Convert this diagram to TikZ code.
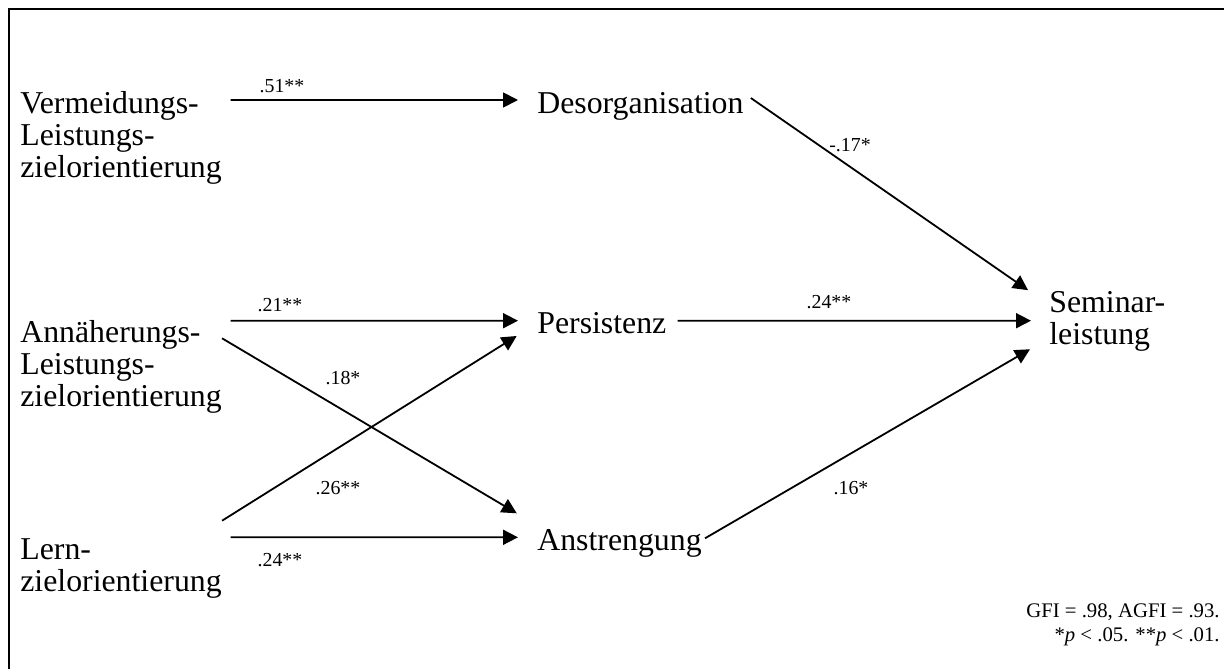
\documentclass[tikz,border=0pt]{standalone}
\usepackage{fontspec}
\setmainfont{Liberation Serif}
\usetikzlibrary{arrows.meta}

\tikzset{
  bloc/.style={anchor=base west,inner sep=0pt,align=left,font=\fontsize{18.1}{18.2}\selectfont},
  coef/.style={inner sep=0pt,font=\fontsize{11.3}{13}\selectfont},
  fleche/.style={line width=0.36mm,-{Triangle[length=3mm,width=3mm]}},
}

\begin{document}
\begin{tikzpicture}[x=0.2mm,y=-0.2mm]
\useasboundingbox (0,0) rectangle (1224,669);
\draw[line width=0.34mm] (9,669) -- (9,9) -- (1224,9);

%colonne de gauche (base = derniere ligne)
\node[bloc] (verm) at (20,177) {Vermeidungs-\\Leistungs-\\zielorientierung};
\node[bloc] (ann) at (20,406.5) {Annäherungs-\\Leistungs-\\zielorientierung};
\node[bloc] (lern) at (20,591) {Lern-\\zielorientierung};

%colonne du milieu
\node[bloc] (deso) at (537,113) {Desorganisation};
\node[bloc] (pers) at (537,333.7) {Persistenz};
\node[bloc] (anst) at (537,550.3) {Anstrengung};

%a droite
\node[bloc] (sem) at (1049,344) {Seminar-\\leistung};
\node[anchor=base east,inner sep=0pt,align=right,font=\fontsize{11.8}{13.6}\selectfont] (guete) at (1220,641)
  {GFI = .98, AGFI = .93.\\*\textit{p} < .05. **\textit{p} < .01.};

%fleches gauche
\draw[fleche,shorten >=3.8mm] ([xshift=1.7mm,yshift=15.4mm]verm.base east) -- ([yshift=2.6mm]deso.base west);
\draw[fleche,shorten >=3.8mm] ([xshift=1.7mm,yshift=17.16mm]ann.base east) -- ([yshift=2.6mm]pers.base west);
\draw[fleche,shorten >=4.7mm] ([yshift=13.64mm]ann.base east) -- ([yshift=5mm]anst.base west);
\draw[fleche,shorten >=4.8mm] ([yshift=14.06mm]lern.base east) -- ([yshift=2.09mm]pers.base west);
\draw[fleche,shorten >=3.8mm] ([xshift=1.7mm,yshift=10.74mm]lern.base east) -- ([yshift=2.6mm]anst.base west);

%fleches droite
\draw[fleche,shorten >=5.1mm] ([xshift=1.4mm,yshift=3mm]deso.base east) -- ([yshift=7.86mm]sem.base west);
\draw[fleche,shorten >=3.6mm] ([xshift=2.2mm,yshift=2.6mm]pers.base east) -- ([yshift=4.66mm]sem.base west);
\draw[fleche,shorten >=4.4mm] ([xshift=0.6mm,yshift=2.4mm]anst.base east) -- ([yshift=1.16mm]sem.base west);

%coefficients
\node[coef] (c1) at (282,86) {.51**};
\node[coef] (c2) at (280,305) {.21**};
\node[coef] (c3) at (343,378) {.18*};
\node[coef] (c4) at (338,488) {.26**};
\node[coef] (c5) at (280,560) {.24**};
\node[coef] (c6) at (850,145) {-.17*};
\node[coef] (c7) at (829,302) {.24**};
\node[coef] (c8) at (851,488) {.16*};
\end{tikzpicture}
\end{document}
